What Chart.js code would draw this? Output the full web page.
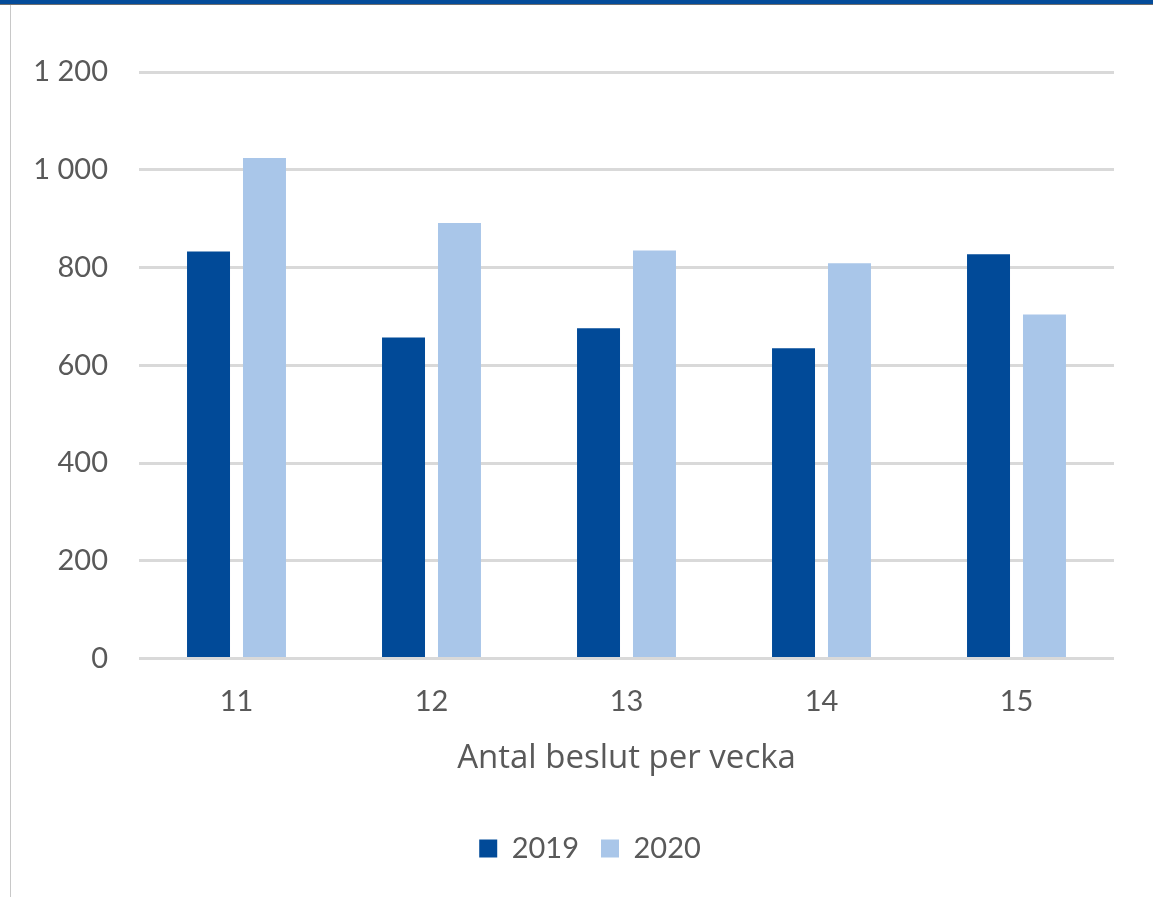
<!DOCTYPE html>
<html>
<head>
<meta charset="utf-8">
<script src="https://cdn.jsdelivr.net/npm/chart.js@4"></script>
<style>
  html, body { margin: 0; padding: 0; background: #fff; }
  body { width: 1153px; height: 897px; position: relative; overflow: hidden; }
  #band { position: absolute; left: 0; top: 0; width: 1153px; height: 4px; background: #044c9a; border-bottom: 1px solid #6f6f6f; }
  #leftline { position: absolute; left: 10px; top: 5px; width: 1px; height: 892px; background: #c8c8c8; }
  #wrap { position: absolute; left: 0; top: 0; width: 1153px; height: 897px; }
</style>
</head>
<body>
<div id="band"></div>
<div id="leftline"></div>
<div id="wrap"><canvas id="c"></canvas></div>
<script>
const categories = ["11", "12", "13", "14", "15"];
const seriesNames = ["2019", "2020"];
const values2019 = [833, 657, 676, 635, 827];
const values2020 = [1024, 891, 835, 809, 704];
const yTicks = [0, 200, 400, 600, 800, 1000, 1200];
const xTitle = "Antal beslut per vecka";

const FONT = "Lato, 'Open Sans', sans-serif";
const TFONT = "'Open Sans', Lato, sans-serif";
const GREY = "#595959";

function fmt(v) {
  return String(v).replace(/\B(?=(\d{3})+(?!\d))/g, " ");
}

// shift the legend's horizontal band so it is centred like the original
const legendShift = {
  id: "legendShift",
  afterLayout(chart) {
    if (chart.legend) { chart.legend.left = 66; }
  }
};

new Chart(document.getElementById("c"), {
  type: "bar",
  data: {
    labels: categories,
    datasets: [
      { label: seriesNames[0], data: values2019, backgroundColor: "#014a98", barPercentage: 0.768, categoryPercentage: 0.574 },
      { label: seriesNames[1], data: values2020, backgroundColor: "#a9c6e9", barPercentage: 0.768, categoryPercentage: 0.574 }
    ]
  },
  plugins: [legendShift],
  options: {
    responsive: true,
    maintainAspectRatio: false,
    animation: false,
    layout: { padding: { left: 0, right: 39, top: 72, bottom: 24 } },
    plugins: {
      legend: {
        position: "bottom",
        labels: { font: { family: FONT, size: 29 }, color: GREY, boxWidth: 18, boxHeight: 18, padding: 22 }
      },
      tooltip: { enabled: false }
    },
    scales: {
      x: {
        grid: { display: false, drawTicks: false },
        border: { display: false },
        ticks: { font: { family: FONT, size: 29 }, color: GREY, padding: 26 },
        title: { display: true, text: xTitle, font: { family: TFONT, size: 33 }, color: GREY, padding: { top: -7, bottom: 34 } }
      },
      y: {
        min: 0, max: 1200,
        afterBuildTicks: (s) => { s.ticks = yTicks.map(v => ({ value: v })); },
        afterFit: (s) => { s.width = 139; },
        grid: { color: "#d9d9d9", lineWidth: 3, drawTicks: false },
        border: { display: false },
        ticks: { font: { family: FONT, size: 29 }, color: GREY, padding: 31, callback: (v) => fmt(v) }
      }
    }
  }
});
</script>
</body>
</html>
